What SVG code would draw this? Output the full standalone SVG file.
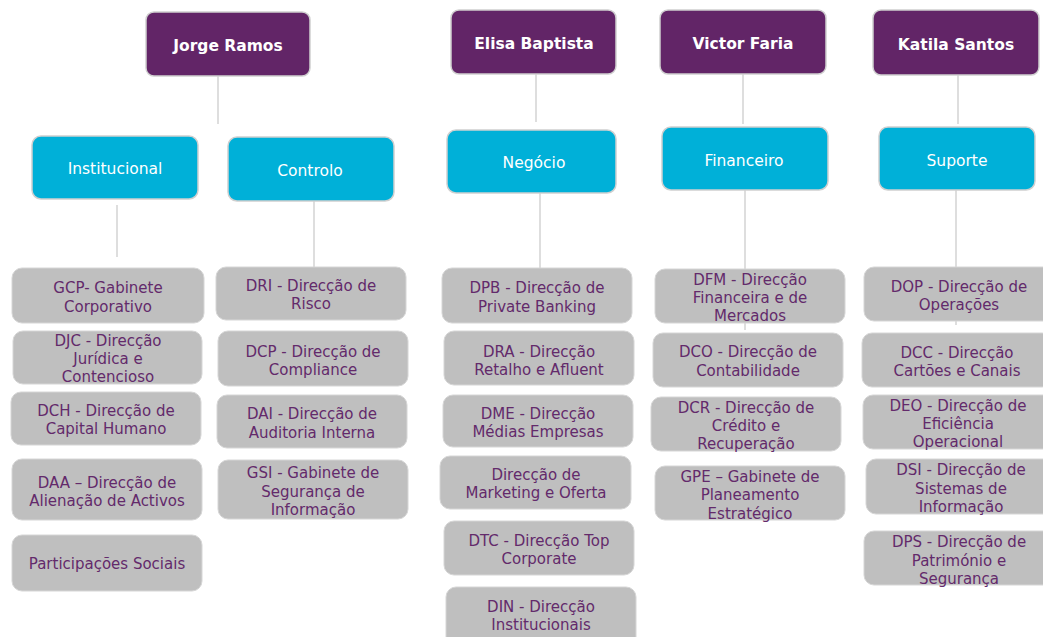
<svg xmlns="http://www.w3.org/2000/svg" width="1043" height="637" viewBox="0 0 1043 637">
<style>
.bg{fill:#ffffff}
.head rect{fill:#622567;stroke:#cfcfcf;stroke-width:1.5}
.head text{fill:#ffffff;font-family:"DejaVu Sans",sans-serif;font-weight:bold;font-size:15.5px;text-anchor:middle}
.area rect{fill:#00b0d8;stroke:#cfcfcf;stroke-width:1.5}
.area text{fill:#ffffff;font-family:"DejaVu Sans",sans-serif;font-size:15.5px;text-anchor:middle}
.unit rect{fill:#bfbfbf;stroke:#d6d6d6;stroke-width:1}
.unit text{fill:#632a6b;font-family:"DejaVu Sans",sans-serif;font-size:15px;text-anchor:middle}
.conn line{stroke:#c8c8c8;stroke-width:1.2}
</style>
<rect class="bg" x="0" y="0" width="1043" height="637"/>
<g id="connectors" class="conn">
<line x1="218" y1="76" x2="218" y2="124"/>
<line x1="536" y1="74" x2="536" y2="122"/>
<line x1="743" y1="74" x2="743" y2="124"/>
<line x1="958" y1="75" x2="958" y2="124"/>
<line x1="117" y1="205" x2="117" y2="257"/>
<line x1="314" y1="201" x2="314" y2="268"/>
<line x1="540" y1="193" x2="540" y2="268"/>
<line x1="745" y1="190" x2="745" y2="330"/>
<line x1="956" y1="190" x2="956" y2="325"/>
</g>
<g id="n-jorge" class="head"><rect x="146" y="12" width="164" height="64" rx="8"/><text x="228" y="51">Jorge Ramos</text></g>
<g id="n-elisa" class="head"><rect x="451" y="10" width="165" height="64" rx="8"/><text x="534" y="49">Elisa Baptista</text></g>
<g id="n-victor" class="head"><rect x="660" y="10" width="166" height="64" rx="8"/><text x="743" y="49">Victor Faria</text></g>
<g id="n-katila" class="head"><rect x="873" y="10" width="166" height="65" rx="8"/><text x="956" y="50">Katila Santos</text></g>

<g id="n-institucional" class="area"><rect x="32" y="136" width="166" height="63" rx="9"/><text x="115" y="174">Institucional</text></g>
<g id="n-controlo" class="area"><rect x="228" y="137" width="166" height="64" rx="9"/><text x="310" y="176">Controlo</text></g>
<g id="n-negocio" class="area"><rect x="447" y="130" width="169" height="63" rx="9"/><text x="534" y="168">Negócio</text></g>
<g id="n-financeiro" class="area"><rect x="662" y="127" width="166" height="63" rx="9"/><text x="744" y="166">Financeiro</text></g>
<g id="n-suporte" class="area"><rect x="879" y="127" width="156" height="63" rx="9"/><text x="957" y="166">Suporte</text></g>

<g id="n-gcp" class="unit"><rect x="12" y="268" width="192" height="55" rx="10"/><text x="108"><tspan x="108" y="293">GCP- Gabinete</tspan><tspan x="108" y="312">Corporativo</tspan></text></g>
<g id="n-djc" class="unit"><rect x="13" y="331" width="189" height="53" rx="10"/><text x="108"><tspan x="108" y="346">DJC - Direcção</tspan><tspan x="108" y="364">Jurídica e</tspan><tspan x="108" y="382">Contencioso</tspan></text></g>
<g id="n-dch" class="unit"><rect x="11" y="392" width="190" height="53" rx="10"/><text x="106"><tspan x="106" y="416">DCH - Direcção de</tspan><tspan x="106" y="434">Capital Humano</tspan></text></g>
<g id="n-daa" class="unit"><rect x="12" y="459" width="190" height="61" rx="10"/><text x="107"><tspan x="107" y="488">DAA – Direcção de</tspan><tspan x="107" y="506">Alienação de Activos</tspan></text></g>
<g id="n-part" class="unit"><rect x="12" y="535" width="190" height="56" rx="10"/><text x="107" y="569">Participações Sociais</text></g>

<g id="n-dri" class="unit"><rect x="216" y="267" width="190" height="53" rx="10"/><text x="311"><tspan x="311" y="291">DRI - Direcção de</tspan><tspan x="311" y="309">Risco</tspan></text></g>
<g id="n-dcp" class="unit"><rect x="218" y="331" width="190" height="55" rx="10"/><text x="313"><tspan x="313" y="357">DCP - Direcção de</tspan><tspan x="313" y="375">Compliance</tspan></text></g>
<g id="n-dai" class="unit"><rect x="217" y="395" width="190" height="53" rx="10"/><text x="312"><tspan x="312" y="419">DAI - Direcção de</tspan><tspan x="312" y="438">Auditoria Interna</tspan></text></g>
<g id="n-gsi" class="unit"><rect x="218" y="460" width="190" height="59" rx="10"/><text x="313"><tspan x="313" y="478">GSI - Gabinete de</tspan><tspan x="313" y="497">Segurança de</tspan><tspan x="313" y="515">Informação</tspan></text></g>

<g id="n-dpb" class="unit"><rect x="442" y="268" width="190" height="55" rx="10"/><text x="537"><tspan x="537" y="293">DPB - Direcção de</tspan><tspan x="537" y="312">Private Banking</tspan></text></g>
<g id="n-dra" class="unit"><rect x="444" y="331" width="190" height="54" rx="10"/><text x="539"><tspan x="539" y="357">DRA - Direcção</tspan><tspan x="539" y="375">Retalho e Afluent</tspan></text></g>
<g id="n-dme" class="unit"><rect x="443" y="395" width="190" height="52" rx="10"/><text x="538"><tspan x="538" y="419">DME - Direcção</tspan><tspan x="538" y="437">Médias Empresas</tspan></text></g>
<g id="n-dmo" class="unit"><rect x="440" y="456" width="191" height="53" rx="10"/><text x="536"><tspan x="536" y="480">Direcção de</tspan><tspan x="536" y="498">Marketing e Oferta</tspan></text></g>
<g id="n-dtc" class="unit"><rect x="444" y="521" width="190" height="54" rx="10"/><text x="539"><tspan x="539" y="546">DTC - Direcção Top</tspan><tspan x="539" y="564">Corporate</tspan></text></g>
<g id="n-din" class="unit"><rect x="446" y="587" width="190" height="60" rx="10"/><text x="541"><tspan x="541" y="612">DIN - Direcção</tspan><tspan x="541" y="630">Institucionais</tspan></text></g>

<g id="n-dfm" class="unit"><rect x="655" y="269" width="190" height="54" rx="10"/><text x="750"><tspan x="750" y="285">DFM - Direcção</tspan><tspan x="750" y="303">Financeira e de</tspan><tspan x="750" y="321">Mercados</tspan></text></g>
<g id="n-dco" class="unit"><rect x="653" y="333" width="190" height="54" rx="10"/><text x="748"><tspan x="748" y="357">DCO - Direcção de</tspan><tspan x="748" y="376">Contabilidade</tspan></text></g>
<g id="n-dcr" class="unit"><rect x="651" y="397" width="190" height="54" rx="10"/><text x="746"><tspan x="746" y="413">DCR - Direcção de</tspan><tspan x="746" y="431">Crédito e</tspan><tspan x="746" y="449">Recuperação</tspan></text></g>
<g id="n-gpe" class="unit"><rect x="655" y="466" width="190" height="54" rx="10"/><text x="750"><tspan x="750" y="482">GPE – Gabinete de</tspan><tspan x="750" y="500">Planeamento</tspan><tspan x="750" y="519">Estratégico</tspan></text></g>

<g id="n-dop" class="unit"><rect x="864" y="267" width="190" height="54" rx="10"/><text x="959"><tspan x="959" y="292">DOP - Direcção de</tspan><tspan x="959" y="310">Operações</tspan></text></g>
<g id="n-dcc" class="unit"><rect x="862" y="333" width="190" height="54" rx="10"/><text x="957"><tspan x="957" y="358">DCC - Direcção</tspan><tspan x="957" y="376">Cartões e Canais</tspan></text></g>
<g id="n-deo" class="unit"><rect x="863" y="395" width="190" height="54" rx="10"/><text x="958"><tspan x="958" y="411">DEO - Direcção de</tspan><tspan x="958" y="429">Eficiência</tspan><tspan x="958" y="447">Operacional</tspan></text></g>
<g id="n-dsi" class="unit"><rect x="866" y="459" width="190" height="55" rx="10"/><text x="961"><tspan x="961" y="475">DSI - Direcção de</tspan><tspan x="961" y="494">Sistemas de</tspan><tspan x="961" y="512">Informação</tspan></text></g>
<g id="n-dps" class="unit"><rect x="864" y="531" width="190" height="54" rx="10"/><text x="959"><tspan x="959" y="547">DPS - Direcção de</tspan><tspan x="959" y="566">Património e</tspan><tspan x="959" y="584">Segurança</tspan></text></g>
</svg>
